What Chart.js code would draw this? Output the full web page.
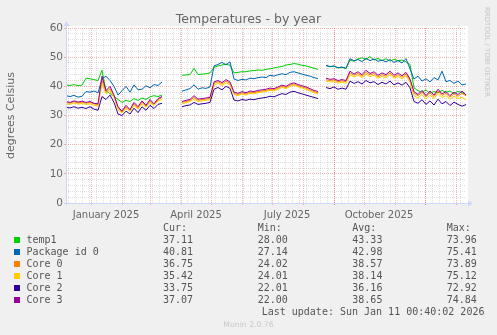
<!DOCTYPE html>
<html>
<head>
<meta charset="utf-8">
<script src="https://cdn.jsdelivr.net/npm/chart.js@4.4.0/dist/chart.umd.min.js"></script>
<style>
  html, body { margin: 0; padding: 0; background: #f0f0f0; }
  #wrap { position: relative; width: 497px; height: 335px; overflow: hidden;
          font-family: 'DejaVu Sans', sans-serif; color: #666; }
  #graph { position: absolute; left: 0; top: 0; }
  .abs { position: absolute; white-space: pre; }
  .title { left: 0; width: 497px; top: 11px; text-align: center; font-size: 12.5px; line-height: 16px; }
  .rrd { left: 487px; top: 52px; font-size: 7px; line-height: 8px; color: #c4c4c4;
         transform: translate(-50%, -50%) rotate(90deg); }
  .mono { font-family: 'DejaVu Sans Mono', monospace; font-size: 10px; line-height: 12px; color: #555; }
  .swatch { position: absolute; width: 6px; height: 6px; }
  .munin { left: 0; width: 497px; top: 320px; text-align: center; font-size: 7.7px; line-height: 9px; color: #c8c8c8; }
</style>
</head>
<body>
<div id="wrap">
  <canvas id="graph" width="497" height="226"></canvas>
  <div class="abs title">Temperatures - by year</div>
  <div class="abs rrd">RRDTOOL / TOBI OETIKER</div>
  <div id="legend"></div>
  <div class="abs mono" style="left:261.7px; top:305.7px;">Last update: Sun Jan 11 00:40:02 2026</div>
  <div class="abs munin">Munin 2.0.76</div>
</div>
<script>
// daily temperatures, one sample every 4 days starting 7 Dec 2024 (day 0)
const STEP = 4;

const temp1 = [
  40.5, 40.3, 40.6, 40.2, 40.4, 42.8, 42.6, 42.3, 42.0, 45.5, 38.5, 37.5, 36.5, 35.5, 34.5, 35.2, 34.8, 35.8, 35.2, 36.0, 35.5, 36.4, 36.8, 36.5, 37.0,
  null, null, null, null,
  43.8, 43.9, 44.0, 46.2, 44.0, 44.2, 44.3, 44.6, 46.5, 47.0, 47.3, 47.6, 47.2, 44.6, 44.8, 45.0, 45.0, 45.3, 45.4, 45.6, 45.5, 45.8, 46.0, 46.3, 46.6, 46.8, 47.3, 47.5, 47.8, 47.6, 47.2, 47.0, 46.6, 46.2, 45.8,
  null,
  47.1, 46.7, 46.9, 46.3, 46.5, 46.1, 49.0, 48.6, 49.4, 49.8, 49.2, 50.2, 49.0, 49.6, 48.8, 49.5, 48.6, 49.3, 48.8, 49.0, 48.4, 47.5,
  39.5, 38.5, 38.0, 38.8, 37.6, 38.2, 37.8, 38.6, 38.0, 38.4, 37.5, 38.3, 37.8, 37.11
];
const package0 = [
  36.8, 36.5, 36.9, 36.3, 36.6, 38.2, 38.0, 38.4, 37.8, 42.5, 43.5, 42.0, 40.0, 37.0, 38.5, 40.0, 38.0, 40.5, 38.8, 39.0, 40.2, 39.5, 40.6, 40.3, 41.5,
  null, null, null, null,
  38.3, 38.8, 39.2, 40.5, 39.0, 39.5, 39.3, 39.8, 47.0, 47.5, 48.2, 47.4, 48.4, 42.5, 42.0, 42.4, 42.2, 42.8, 42.6, 43.0, 43.2, 43.0, 43.8, 43.5, 44.0, 44.3, 44.0, 44.8, 45.0, 44.6, 44.2, 43.8, 43.5, 43.0, 42.6,
  null,
  47.2, 46.8, 47.0, 46.4, 46.6, 46.2, 49.5, 48.8, 49.2, 48.5, 49.6, 48.8, 49.4, 48.6, 49.0, 48.4, 49.2, 48.2, 48.8, 48.0, 49.5, 46.0,
  42.5, 43.5, 41.8, 42.6, 41.5, 43.0, 42.2, 45.2, 41.6, 42.0, 41.0, 41.8, 40.5, 40.81
];
const core0 = [
  34.5, 34.2, 34.8, 34.3, 34.6, 34.2, 34.5, 34.0, 33.6, 42.0, 38.0, 39.2, 36.8, 32.5, 31.2, 33.0, 31.8, 34.0, 32.6, 34.6, 33.2, 35.0, 33.8, 35.4, 36.2,
  null, null, null, null,
  34.5, 34.8, 35.2, 36.2, 35.2, 35.5, 35.6, 35.9, 41.0, 41.6, 40.8, 41.8, 41.0, 37.6, 37.2, 37.8, 37.4, 38.0, 37.8, 38.2, 38.4, 38.6, 39.0, 38.8, 39.4, 40.0, 39.6, 40.4, 40.8, 40.2, 39.8, 39.4, 38.8, 38.2, 37.8,
  null,
  42.3, 42.0, 42.2, 41.6, 41.9, 41.6, 44.6, 43.8, 44.4, 43.5, 44.8, 43.9, 44.4, 43.3, 44.0, 43.5, 44.6, 43.3, 44.0, 43.1, 44.2, 42.0,
  37.6, 36.8, 38.0, 36.4, 37.8, 36.5, 38.4, 36.9, 37.6, 36.3, 37.4, 36.6, 37.6, 36.75
];
const core1 = [
  34.0, 33.8, 34.3, 33.9, 34.1, 33.8, 34.0, 33.5, 33.2, 41.0, 37.4, 38.5, 36.2, 32.0, 30.8, 32.5, 31.4, 33.5, 32.2, 34.0, 32.8, 34.5, 33.4, 35.0, 35.6,
  null, null, null, null,
  34.0, 34.4, 34.8, 35.6, 34.8, 35.0, 35.2, 35.4, 40.4, 41.0, 40.3, 41.2, 40.5, 37.2, 36.8, 37.4, 37.0, 37.6, 37.4, 37.8, 38.0, 38.2, 38.6, 38.4, 39.0, 39.6, 39.2, 40.0, 40.4, 39.8, 39.4, 39.0, 38.4, 37.8, 37.4,
  null,
  41.8, 41.5, 41.6, 41.1, 41.4, 41.1, 44.0, 43.2, 43.8, 43.0, 44.2, 43.3, 43.8, 42.8, 43.4, 42.9, 44.0, 42.8, 43.4, 42.6, 43.6, 41.4,
  36.8, 36.0, 37.2, 35.6, 37.0, 35.8, 37.6, 36.2, 36.8, 35.6, 36.6, 35.8, 36.2, 35.42
];
const core2 = [
  32.8, 32.6, 33.0, 32.5, 32.8, 32.4, 33.0, 32.2, 31.8, 36.5, 35.5, 37.0, 34.5, 30.5, 30.0, 31.5, 30.5, 32.5, 31.0, 33.0, 31.8, 33.5, 32.4, 33.8, 34.2,
  null, null, null, null,
  33.0, 33.4, 33.6, 34.5, 33.8, 34.0, 34.2, 34.5, 39.0, 39.6, 38.8, 40.0, 39.3, 35.3, 35.0, 35.5, 35.2, 35.6, 35.4, 35.8, 36.0, 36.2, 36.6, 36.4, 37.0, 37.5, 37.2, 38.0, 38.3, 37.8, 37.4, 37.0, 36.6, 36.2, 35.8,
  null,
  39.6, 39.2, 39.8, 39.0, 39.4, 39.0, 41.8, 41.0, 41.6, 40.8, 42.0, 41.2, 41.6, 40.6, 41.4, 40.8, 41.8, 40.5, 41.2, 40.4, 41.4, 39.5,
  34.8, 34.2, 35.4, 33.8, 35.0, 33.6, 35.6, 34.0, 34.8, 33.4, 34.6, 33.8, 33.2, 33.75
];
const core3 = [
  34.8, 34.5, 35.0, 34.6, 34.9, 34.5, 34.8, 34.2, 34.0, 43.5, 38.5, 40.0, 37.0, 33.0, 31.5, 33.5, 32.0, 34.5, 33.0, 35.0, 33.5, 35.5, 34.0, 35.8, 36.5,
  null, null, null, null,
  34.8, 35.2, 35.5, 36.8, 35.6, 35.8, 36.0, 36.2, 41.5, 42.0, 41.3, 42.3, 41.5, 38.0, 37.6, 38.2, 37.8, 38.4, 38.2, 38.6, 38.8, 39.0, 39.4, 39.2, 39.8, 40.4, 40.0, 40.8, 41.2, 40.6, 40.2, 39.8, 39.2, 38.6, 38.2,
  null,
  42.8, 42.4, 42.6, 42.0, 42.3, 42.0, 45.2, 44.2, 45.0, 44.0, 45.5, 44.4, 45.0, 43.8, 44.6, 44.0, 45.2, 43.8, 44.6, 43.6, 44.8, 42.5,
  38.2, 37.2, 38.6, 36.8, 38.4, 37.0, 39.0, 37.4, 38.2, 36.8, 38.0, 37.2, 38.4, 37.07
];

const names  = ['temp1', 'Package id 0', 'Core 0', 'Core 1', 'Core 2', 'Core 3'];
const colors = ['#00cc00', '#0066b3', '#ff8000', '#ffcc00', '#330099', '#990099'];
const series = [temp1, package0, core0, core1, core2, core3];
const curVals = [37.11, 40.81, 36.75, 35.42, 33.75, 37.07];
const minVals = [28.00, 27.14, 24.02, 24.01, 22.01, 22.00];
const avgVals = [43.33, 42.98, 38.57, 38.14, 36.16, 38.65];
const maxVals = [73.96, 75.41, 73.89, 75.12, 72.92, 74.84];

// x axis in days since 7 Dec 2024
const monthDays = [25, 56, 84, 115, 145, 176, 206, 237, 268, 298, 329, 359, 390];
const weekDays = [2, 9, 16, 23, 30, 37, 44, 51, 58, 65, 72, 79, 86, 93, 100, 107, 114, 121, 128, 135, 142, 149, 156, 163, 170, 177, 184, 191, 198,
                  205, 212, 219, 226, 233, 240, 247, 254, 261, 268, 275, 282, 289, 296, 303, 310, 317, 324, 331, 338, 345, 352, 359, 366, 373, 380, 387, 394];
const labelDays = [40, 130, 221, 313];
const labelText = ['January 2025', 'April 2025', 'July 2025', 'October 2025'];
const yMajor = [0, 10, 20, 30, 40, 50, 60];

const MGRID = 'rgba(222, 79, 79, 0.42)';
const GRID = 'rgba(140, 140, 140, 0.28)';
const AXIS = '#cfd6f8';

// legend table
const legend = document.getElementById('legend');
const cols = [163, 257.7, 352.3, 446.7];
const heads = ['Cur:', 'Min:', 'Avg:', 'Max:'];
function addText(txt, x, y) {
  const d = document.createElement('div');
  d.className = 'abs mono';
  d.style.left = x + 'px';
  d.style.top = (y - 6) + 'px';
  d.textContent = txt;
  legend.appendChild(d);
}
heads.forEach((h, k) => addText(h, cols[k], 227.7));
names.forEach((n, i) => {
  const y = 239.5 + i * 12;
  const sw = document.createElement('div');
  sw.className = 'swatch';
  sw.style.left = '14px';
  sw.style.top = (y - 3) + 'px';
  sw.style.background = colors[i];
  legend.appendChild(sw);
  addText(n, 26.5, y);
  [curVals, minVals, avgVals, maxVals].forEach((arr, k) => addText(arr[i].toFixed(2), cols[k], y));
});

// white canvas, axis lines and arrows in the rrdtool style
const frame = {
  id: 'frame',
  beforeDraw(chart) {
    const {ctx, chartArea: a} = chart;
    ctx.save();
    ctx.fillStyle = '#ffffff';
    ctx.fillRect(a.left, a.top - 2, a.right - a.left + 2, a.bottom - a.top + 2);
    ctx.restore();
  },
  afterDatasetsDraw(chart) {
    const {ctx, chartArea: a} = chart;
    const x0 = Math.round(a.left) + 0.5, y0 = Math.round(a.bottom) + 0.5;
    ctx.save();
    ctx.strokeStyle = AXIS;
    ctx.fillStyle = AXIS;
    ctx.lineWidth = 1;
    ctx.beginPath();
    ctx.moveTo(x0 - 2, y0); ctx.lineTo(a.right + 2, y0);
    ctx.moveTo(x0, y0 + 2); ctx.lineTo(x0, a.top - 2);
    ctx.stroke();
    ctx.beginPath();
    ctx.moveTo(a.right + 7, y0); ctx.lineTo(a.right + 2, y0 - 3); ctx.lineTo(a.right + 2, y0 + 3);
    ctx.closePath(); ctx.fill();
    ctx.beginPath();
    ctx.moveTo(x0, a.top - 7); ctx.lineTo(x0 - 3, a.top - 2); ctx.lineTo(x0 + 3, a.top - 2);
    ctx.closePath(); ctx.fill();
    ctx.restore();
  }
};

const datasets = series.map((vals, i) => ({
  label: names[i],
  data: vals.map((v, j) => ({x: j * STEP, y: v})),
  borderColor: colors[i],
  backgroundColor: colors[i],
  borderWidth: 1,
  pointRadius: 0,
  tension: 0,
  spanGaps: false,
  order: series.length - 1 - i
}));

new Chart(document.getElementById('graph'), {
  type: 'line',
  data: { datasets },
  options: {
    responsive: false,
    animation: false,
    events: [],
    layout: { padding: { top: 28, right: 31, left: 0, bottom: 0 } },
    plugins: { legend: { display: false }, tooltip: { enabled: false } },
    scales: {
      x: {
        type: 'linear', position: 'bottom', min: 0, max: 400, weight: 0,
        afterBuildTicks: s => { s.ticks = weekDays.concat(monthDays).map(v => ({value: v})); },
        afterFit: s => { s.height = 0; },
        ticks: { display: false },
        grid: {
          color: c => monthDays.includes(c.tick.value) ? MGRID : GRID,
          tickColor: c => monthDays.includes(c.tick.value) ? MGRID : 'rgba(0,0,0,0)',
          tickLength: 2, drawTicks: true
        },
        border: { display: false, dash: [1, 1] }
      },
      x2: {
        type: 'linear', position: 'bottom', min: 0, max: 400, weight: 1,
        afterBuildTicks: s => { s.ticks = labelDays.map(v => ({value: v})); },
        afterFit: s => { s.height = 23; },
        ticks: {
          autoSkip: false, maxRotation: 0, padding: -2, color: '#666',
          font: { family: 'DejaVu Sans', size: 10 },
          callback: (v, idx) => labelText[idx]
        },
        grid: { display: false },
        border: { display: false }
      },
      y: {
        min: 0, max: 60,
        afterBuildTicks: s => { s.ticks = Array.from({length: 31}, (_, k) => ({value: k * 2})); },
        afterFit: s => { s.width = 66; },
        ticks: {
          autoSkip: false, padding: 1, color: '#666',
          font: { family: 'DejaVu Sans', size: 10.5 },
          callback: v => yMajor.includes(v) ? String(v) : ''
        },
        grid: {
          color: c => yMajor.includes(c.tick.value) ? MGRID : GRID,
          tickColor: c => yMajor.includes(c.tick.value) ? MGRID : 'rgba(0,0,0,0)',
          tickLength: 2, drawTicks: true
        },
        border: { display: false, dash: [1, 1] },
        title: {
          display: true, text: 'degrees Celsius', color: '#666',
          font: { family: 'DejaVu Sans', size: 11 },
          padding: { top: 5, bottom: 0 }
        }
      }
    }
  },
  plugins: [frame]
});
</script>
</body>
</html>
